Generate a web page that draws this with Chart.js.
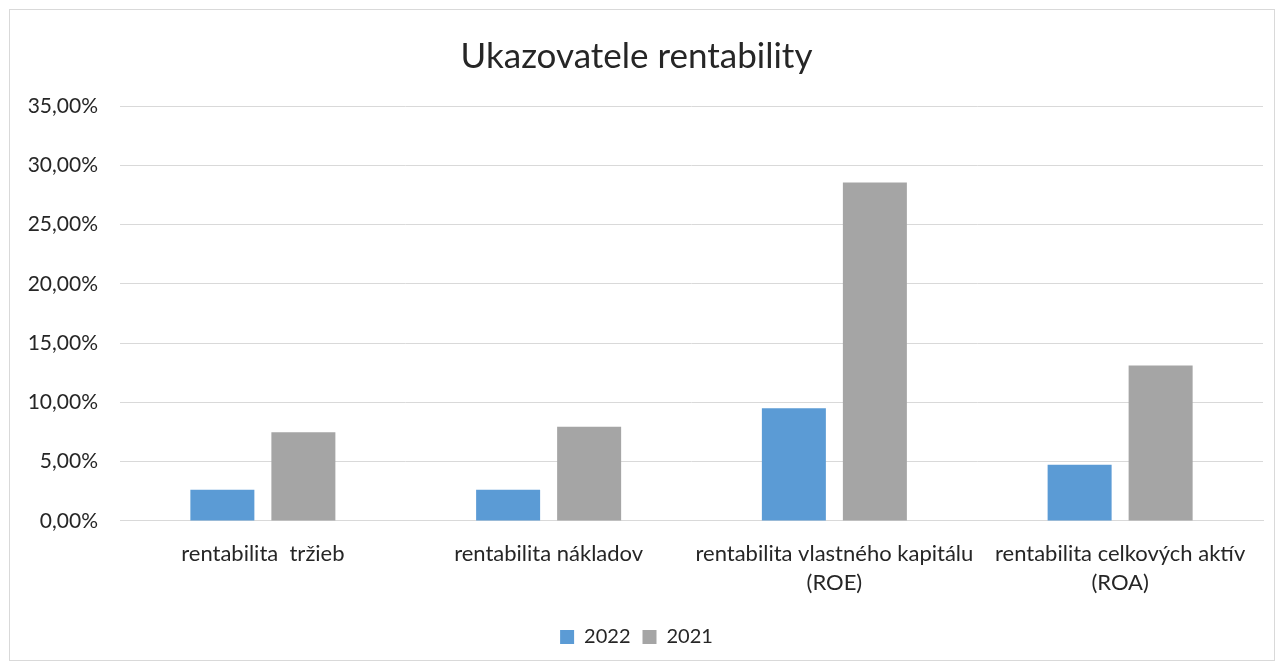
<!DOCTYPE html>
<html><head><meta charset="utf-8">
<script src="https://cdn.jsdelivr.net/npm/chart.js@4/dist/chart.umd.min.js"></script>
<style>
html,body{margin:0;padding:0;background:#fff;}
#wrap{position:absolute;left:9px;top:9px;width:1264px;height:650px;border:1px solid #d9d9d9;}
canvas{display:block;}
</style></head><body>
<div id="wrap"><canvas id="c" width="1264" height="650"></canvas></div>
<script>
const categories = [
  "rentabilita  tržieb",
  "rentabilita nákladov",
  ["rentabilita vlastného kapitálu", "(ROE)"],
  ["rentabilita celkových aktív", "(ROA)"]
];
const series2022 = [2.62, 2.62, 9.51, 4.74];
const series2021 = [7.47, 7.95, 28.54, 13.11];
const yTicks = [0, 5, 10, 15, 20, 25, 30, 35];

const FONT = "Lato, 'Open Sans', sans-serif";
const TXT = "#262626";

new Chart(document.getElementById('c'), {
  type: 'bar',
  data: {
    labels: categories,
    datasets: [
      { label: '2022', data: series2022, backgroundColor: '#5B9BD5', borderWidth:0,
        categoryPercentage: 0.567, barPercentage: 0.79 },
      { label: '2021', data: series2021, backgroundColor: '#A5A5A5', borderWidth:0,
        categoryPercentage: 0.567, barPercentage: 0.79 }
    ]
  },
  options: {
    responsive: false,
    animation: false,
    layout: { padding: { left: 0, right: 11, top: 26, bottom: 3 } },
    plugins: {
      title: { display: true, text: 'Ukazovatele rentability', color: TXT,
        font: { family: FONT, size: 35, weight: 'normal', lineHeight: 1.2 }, padding: { top: 0, bottom: 28 } },
      legend: { position: 'bottom', labels: { color: TXT, font: { family: FONT, size: 20 },
        boxWidth: 14, boxHeight: 14, padding: 12 } },
      tooltip: { enabled: false }
    },
    scales: {
      x: {
        grid: { display: false, drawTicks: false },
        border: { display: true, color: '#d9d9d9' },
        ticks: { color: TXT, font: { family: FONT, size: 22, lineHeight: 1.32 }, padding: 18, maxRotation: 0, autoSkip: false }
      },
      y: {
        min: 0, max: 35,
        afterBuildTicks: (s) => { s.ticks = yTicks.map(v => ({ value: v })); },
        afterFit: (s) => { s.width = 110; },
        grid: { color: '#d9d9d9', drawTicks: false, lineWidth: 1 },
        border: { display: false },
        ticks: { color: TXT, font: { family: FONT, size: 21 }, padding: 22,
          callback: (v) => v.toFixed(2).replace('.', ',') + '%' }
      }
    }
  }
});
</script>
</body></html>
